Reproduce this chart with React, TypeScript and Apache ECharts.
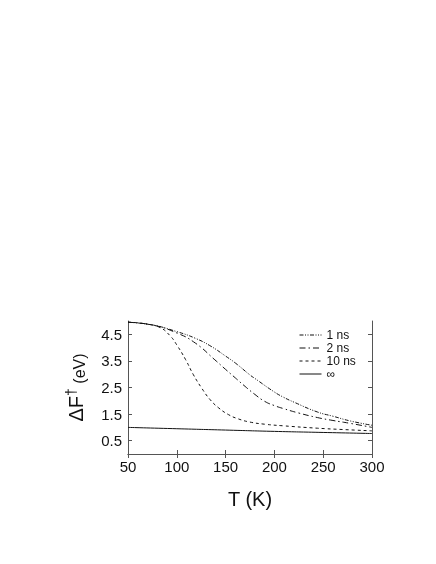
import React, { useEffect, useRef } from "react";
import * as echarts from "echarts";

const T1 = [50, 75, 100, 119, 135, 150, 160, 175, 180, 200, 209, 220, 244, 260, 278, 300];
const NS1 = [4.95, 4.85, 4.6, 4.35, 4.05, 3.68, 3.42, 2.97, 2.84, 2.33, 2.14, 1.95, 1.58, 1.42, 1.24, 1.08];

const T2 = [50, 75, 100, 119, 139, 150, 160, 170, 180, 190, 200, 209, 225, 244, 260, 278, 300];
const NS2 = [4.95, 4.85, 4.55, 4.17, 3.54, 3.18, 2.86, 2.54, 2.24, 1.98, 1.82, 1.71, 1.54, 1.37, 1.26, 1.15, 1.0];

const T10 = [50, 70, 83, 93, 100, 109, 117, 126, 134, 143, 153, 163, 175, 190, 209, 244, 270, 300];
const NS10 = [4.96, 4.88, 4.75, 4.45, 4.1, 3.55, 2.98, 2.45, 2.05, 1.73, 1.48, 1.32, 1.2, 1.12, 1.06, 0.97, 0.92, 0.87];

const TINF = [50, 100, 150, 200, 250, 300];
const INF = [1.0, 0.95, 0.9, 0.85, 0.81, 0.77];

const Y_TICKS = [0.5, 1.5, 2.5, 3.5, 4.5];
const SERIES_NAMES = ["1 ns", "2 ns", "10 ns", "∞"];

const FONT = "Liberation Sans, Arial, Helvetica, sans-serif";
const AXIS_COLOR = "#555";

function pairs(xs: number[], ys: number[]) {
  return xs.map((x, i) => [x, ys[i]]);
}

export default function App() {
  const ref = useRef<HTMLDivElement>(null);
  useEffect(() => {
    if (!ref.current) return;
    const chart = echarts.init(ref.current, null, { renderer: "svg" });
    const axisLine = { show: true, lineStyle: { color: AXIS_COLOR, width: 1 } };
    const tick = { show: true, inside: true, length: 4, lineStyle: { color: AXIS_COLOR } };
    const lineBase = { type: "line", showSymbol: false, symbol: "none", smooth: true, color: "#111" };
    chart.setOption({
      animation: false,
      textStyle: { fontFamily: FONT },
      grid: { left: 128, right: 64, top: 321, bottom: 110, containLabel: false },
      legend: {
        orient: "vertical",
        left: 299,
        top: 329,
        padding: 0,
        itemWidth: 22,
        itemHeight: 8,
        itemGap: 1,
        itemStyle: { opacity: 0 },
        lineStyle: { width: 1 },
        textStyle: { fontSize: 12, lineHeight: 12, color: "#111", fontFamily: FONT },
        data: SERIES_NAMES,
      },
      xAxis: [
        {
          type: "value",
          min: 50,
          max: 300,
          interval: 50,
          position: "bottom",
          axisLine,
          axisTick: tick,
          splitLine: { show: false },
          axisLabel: { fontSize: 15, color: "#111", margin: 5, fontFamily: FONT },
          name: "T (K)",
          nameLocation: "middle",
          nameGap: 35,
          nameTextStyle: { fontSize: 20, color: "#111", fontFamily: FONT },
        },
        {
          type: "value",
          min: 50,
          max: 300,
          interval: 50,
          position: "top",
          axisLine,
          axisTick: tick,
          splitLine: { show: false },
          axisLabel: { show: false },
        },
      ],
      yAxis: [
        {
          type: "value",
          min: 0,
          max: 5,
          position: "left",
          axisLine,
          axisTick: { ...tick, customValues: Y_TICKS },
          splitLine: { show: false },
          axisLabel: {
            customValues: Y_TICKS,
            fontSize: 15,
            color: "#111",
            margin: 6,
            fontFamily: FONT,
            formatter: (v: number) => v.toFixed(1),
          },
          name: "{a|ΔF}{b|†}{c| (eV)}",
          nameLocation: "middle",
          nameGap: 40,
          nameRotate: 90,
          nameTextStyle: {
            color: "#111",
            fontFamily: FONT,
            rich: {
              a: { fontSize: 20, color: "#111", fontFamily: FONT },
              b: { fontSize: 14, color: "#111", fontFamily: FONT, padding: [0, 0, 10, 0] },
              c: { fontSize: 16, color: "#111", fontFamily: FONT, padding: [6, 0, 0, 0] },
            },
          },
        },
        {
          type: "value",
          min: 0,
          max: 5,
          position: "right",
          axisLine,
          axisTick: { ...tick, customValues: Y_TICKS },
          splitLine: { show: false },
          axisLabel: { show: false },
        },
      ],
      series: [
        { ...lineBase, name: SERIES_NAMES[0], data: pairs(T1, NS1), lineStyle: { width: 1, color: "#111", type: [4, 1.5, 1, 1.5, 1, 1.5] } },
        { ...lineBase, name: SERIES_NAMES[1], data: pairs(T2, NS2), lineStyle: { width: 1, color: "#111", type: [6, 3, 1.5, 3] } },
        { ...lineBase, name: SERIES_NAMES[2], data: pairs(T10, NS10), lineStyle: { width: 1, color: "#111", type: [3, 3] } },
        { ...lineBase, name: SERIES_NAMES[3], data: pairs(TINF, INF), lineStyle: { width: 1, color: "#111", type: "solid" } },
      ],
    });
    return () => chart.dispose();
  }, []);
  return <div ref={ref} style={{ position: "fixed", left: 0, top: 0, width: 436, height: 564 }} />;
}
